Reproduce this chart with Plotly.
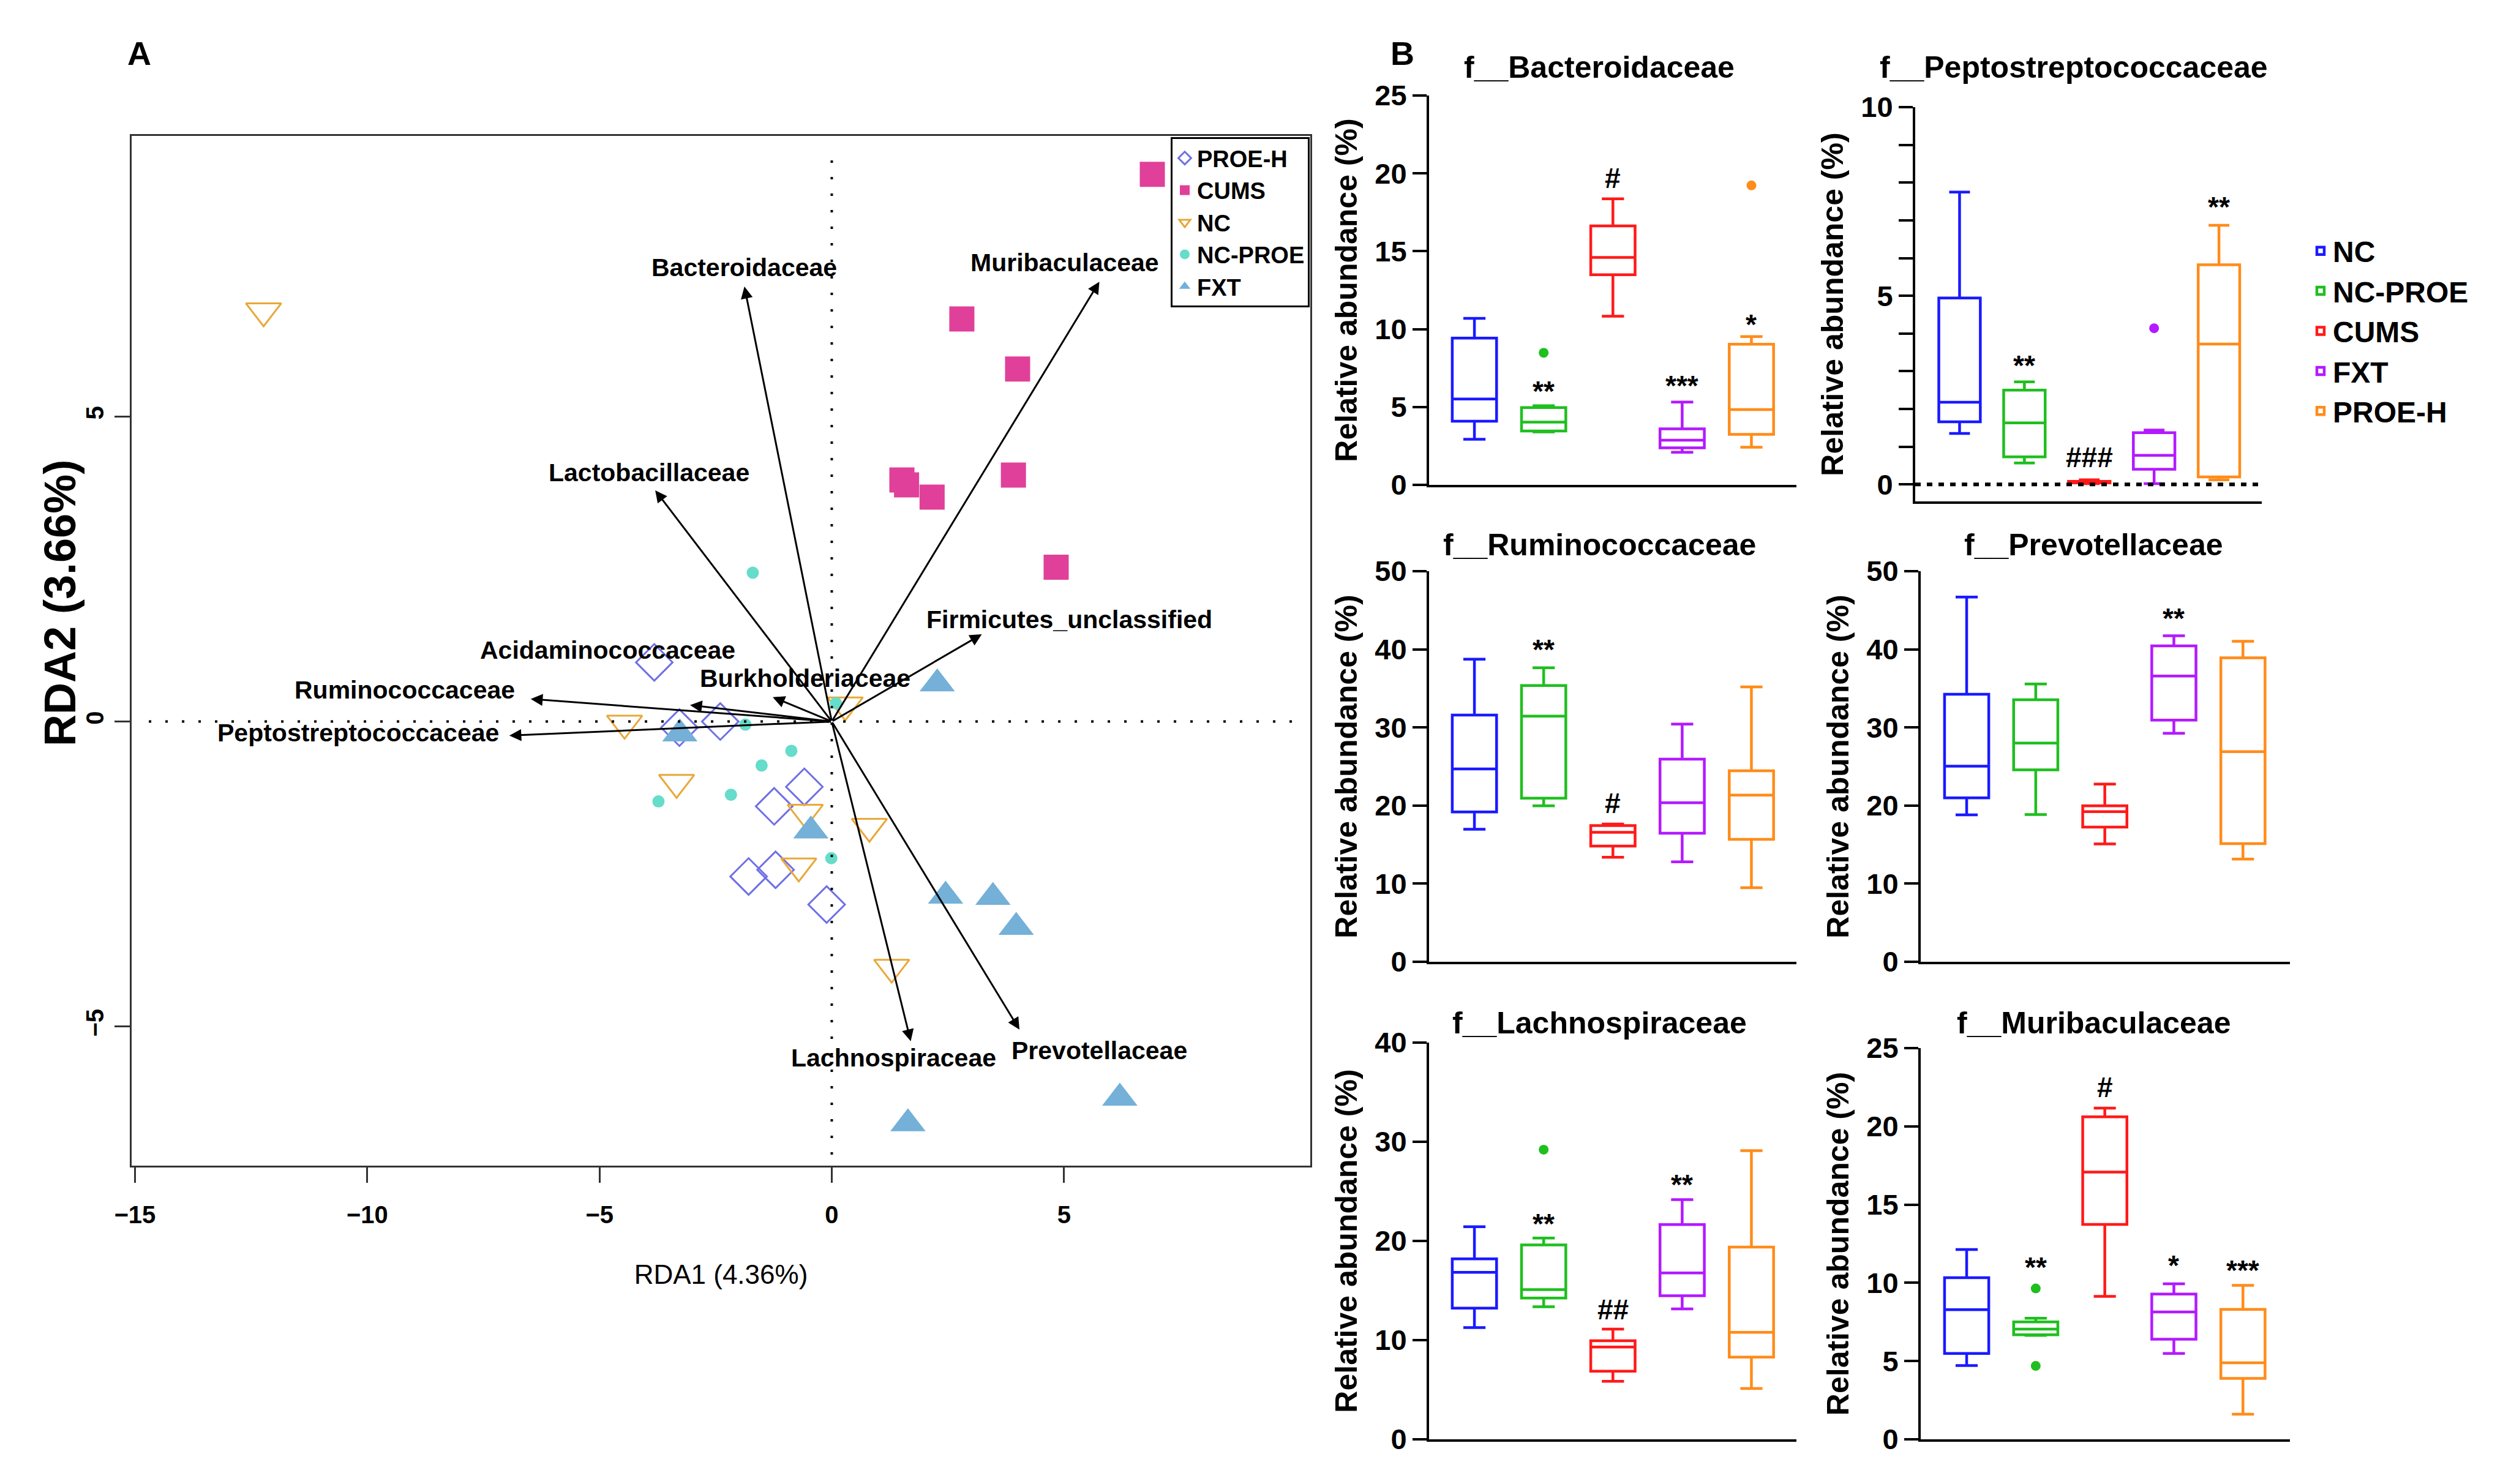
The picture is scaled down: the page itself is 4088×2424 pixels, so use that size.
import plotly.graph_objects as go

# ---------------- Panel A data (RDA biplot) ----------------
proeh_x = [-3.82, -3.28, -2.40, -0.59, -1.24, -1.79, -1.21, -0.11]
proeh_y = [0.97, -0.10, 0.00, -1.07, -1.39, -2.54, -2.43, -3.00]
cums_x = [6.90, 2.80, 4.00, 1.51, 1.61, 2.16, 3.91, 4.83]
cums_y = [8.97, 6.60, 5.78, 3.96, 3.88, 3.68, 4.04, 2.53]
nc_x = [-12.23, -4.46, -3.34, -0.57, 0.81, -0.71, 0.29, 1.29]
nc_y = [6.73, -0.03, -1.00, -1.49, -1.72, -2.37, 0.27, -4.03]
ncproe_x = [-1.70, -1.86, -0.87, -1.51, -2.17, -3.73, -0.01, 0.09]
ncproe_y = [2.44, -0.05, -0.48, -0.72, -1.20, -1.31, -2.24, 0.30]
fxt_x = [2.27, -3.27, -0.45, 2.45, 3.47, 3.97, 6.20, 1.64]
fxt_y = [0.62, -0.20, -1.79, -2.86, -2.88, -3.37, -6.17, -6.59]

arrow_names = ["Bacteroidaceae", "Muribaculaceae", "Lactobacillaceae", "Firmicutes_unclassified",
               "Acidaminococcaceae", "Burkholderiaceae", "Ruminococcaceae", "Peptostreptococcaceae",
               "Lachnospiraceae", "Prevotellaceae"]
arrow_x = [-1.88, 5.76, -3.80, 3.23, -3.05, -1.27, -6.48, -6.94, 1.70, 4.04]
arrow_y = [7.13, 7.21, 3.79, 1.43, 0.27, 0.40, 0.37, -0.23, -5.24, -5.05]
label_x = [-1.88, 5.02, -3.93, 5.11, -4.82, -0.57, -9.19, -10.2, 1.33, 5.76]
label_y = [7.44, 7.52, 4.08, 1.67, 1.17, 0.71, 0.52, -0.18, -5.51, -5.39]

# ---------------- Panel B data (box plots) ----------------
groups = ["NC", "NC-PROE", "CUMS", "FXT", "PROE-H"]
box_colors = ["#1a1aff", "#1fbf1f", "#ff1a1a", "#b31aff", "#ff8c1a"]

bact_min = [2.93, 3.40, 10.83, 2.09, 2.42]
bact_q1 = [4.09, 3.46, 13.49, 2.38, 3.24]
bact_med = [5.51, 4.03, 14.60, 2.87, 4.83]
bact_q3 = [9.42, 4.96, 16.63, 3.60, 9.03]
bact_max = [10.69, 5.08, 18.37, 5.32, 9.52]
bact_out_g = [1, 4]
bact_out_v = [8.48, 19.23]
bact_sig = ["", "**", "#", "***", "*"]
bact_sig_y = [0, 6.0, 19.7, 6.35, 10.3]

pept_min = [1.35, 0.57, 0.02, 0.02, 0.12]
pept_q1 = [1.66, 0.73, 0.04, 0.40, 0.20]
pept_med = [2.18, 1.63, 0.06, 0.77, 3.72]
pept_q3 = [4.94, 2.50, 0.08, 1.37, 5.82]
pept_max = [7.75, 2.72, 0.12, 1.44, 6.87]
pept_out_g = [3]
pept_out_v = [4.14]
pept_sig = ["", "**", "###", "", "**"]
pept_sig_y = [0, 3.15, 0.72, 0, 7.35]

rumi_min = [16.97, 19.97, 13.38, 12.79, 9.48]
rumi_q1 = [19.19, 20.94, 14.82, 16.46, 15.68]
rumi_med = [24.69, 31.44, 16.58, 20.36, 21.33]
rumi_q3 = [31.59, 35.37, 17.43, 25.94, 24.45]
rumi_max = [38.73, 37.64, 17.63, 30.42, 35.18]
rumi_out_g = []
rumi_out_v = []
rumi_sig = ["", "**", "#", "", ""]
rumi_sig_y = [0, 40.0, 20.3, 0, 0]

prev_min = [18.80, 18.84, 15.09, 29.25, 13.14]
prev_q1 = [20.98, 24.57, 17.24, 30.93, 15.13]
prev_med = [25.04, 28.00, 19.23, 36.58, 26.91]
prev_q3 = [34.24, 33.54, 19.97, 40.44, 38.92]
prev_max = [46.68, 35.57, 22.74, 41.73, 41.03]
prev_out_g = []
prev_out_v = []
prev_sig = ["", "", "", "**", ""]
prev_sig_y = [0, 0, 0, 44.0, 0]

lach_min = [11.26, 13.37, 5.85, 13.15, 5.13]
lach_q1 = [13.22, 14.25, 6.86, 14.47, 8.28]
lach_med = [16.83, 15.10, 9.31, 16.77, 10.79]
lach_q3 = [18.19, 19.60, 9.94, 21.65, 19.38]
lach_max = [21.43, 20.30, 11.11, 24.17, 29.11]
lach_out_g = [1]
lach_out_v = [29.20]
lach_sig = ["", "**", "##", "**", ""]
lach_sig_y = [0, 21.7, 13.1, 25.7, 0]

muri_min = [4.71, 6.64, 9.14, 5.49, 1.60]
muri_q1 = [5.49, 6.68, 13.73, 6.40, 3.89]
muri_med = [8.28, 7.04, 17.08, 8.14, 4.89]
muri_q3 = [10.33, 7.50, 20.61, 9.28, 8.30]
muri_max = [12.13, 7.74, 21.17, 9.94, 9.84]
muri_out_g = [1, 1]
muri_out_v = [9.64, 4.69]
muri_sig = ["", "**", "#", "*", "***"]
muri_sig_y = [0, 11.0, 22.5, 11.1, 10.8]

# ---------------- layout helpers ----------------
W, H = 4088, 2424


def px(x):
    return x / W


def py(y):
    return 1 - y / H


SANS = "Liberation Sans, Arial, Helvetica, sans-serif"

fig = go.Figure()

# ---------------- Panel A traces ----------------
rda_series = [
    ("PROE-H", proeh_x, proeh_y, dict(symbol="diamond-open", size=46, color="#6f6fe6", line=dict(width=3, color="#6f6fe6"))),
    ("CUMS", cums_x, cums_y, dict(symbol="square", size=41, color="#e0409a")),
    ("NC", nc_x, nc_y, dict(symbol="triangle-down-open", size=50, color="#e8a838", line=dict(width=3, color="#e8a838"))),
    ("NC-PROE", ncproe_x, ncproe_y, dict(symbol="circle", size=20, color="#66dccb")),
    ("FXT", fxt_x, fxt_y, dict(symbol="triangle-up", size=50, color="#74b0d8")),
]
for name, xs, ys, mk in rda_series:
    fig.add_trace(go.Scatter(x=xs, y=ys, mode="markers", name=name, marker=mk,
                             xaxis="x", yaxis="y", legend="legend", showlegend=True))

shapes = []
shapes.append(dict(type="line", xref="x", yref="y", x0=-14.7, x1=9.95, y0=0, y1=0,
                   line=dict(color="black", width=4, dash="4px,23px")))
shapes.append(dict(type="line", xref="x", yref="y", x0=0, x1=0, y0=-7.1, y1=9.4,
                   line=dict(color="black", width=4, dash="4px,23px")))

annotations = []
for n, ax_, ay_, lx, ly in zip(arrow_names, arrow_x, arrow_y, label_x, label_y):
    annotations.append(dict(x=ax_, y=ay_, ax=0, ay=0, xref="x", yref="y", axref="x", ayref="y",
                            text="", showarrow=True, arrowhead=2, arrowsize=1.3, arrowwidth=3,
                            arrowcolor="black"))
    annotations.append(dict(x=lx, y=ly, xref="x", yref="y", text="<b>%s</b>" % n, showarrow=False,
                            font=dict(family=SANS, size=41, color="black"),
                            xanchor="center", yanchor="middle"))

# ---------------- Panel B traces ----------------
panels = [
    ("Bacteroidaceae", bact_min, bact_q1, bact_med, bact_q3, bact_max, bact_out_g, bact_out_v, bact_sig, bact_sig_y),
    ("Peptostreptococcaceae", pept_min, pept_q1, pept_med, pept_q3, pept_max, pept_out_g, pept_out_v, pept_sig, pept_sig_y),
    ("Ruminococcaceae", rumi_min, rumi_q1, rumi_med, rumi_q3, rumi_max, rumi_out_g, rumi_out_v, rumi_sig, rumi_sig_y),
    ("Prevotellaceae", prev_min, prev_q1, prev_med, prev_q3, prev_max, prev_out_g, prev_out_v, prev_sig, prev_sig_y),
    ("Lachnospiraceae", lach_min, lach_q1, lach_med, lach_q3, lach_max, lach_out_g, lach_out_v, lach_sig, lach_sig_y),
    ("Muribaculaceae", muri_min, muri_q1, muri_med, muri_q3, muri_max, muri_out_g, muri_out_v, muri_sig, muri_sig_y),
]

# panel boxes in reference pixels: (left, right, top, bottom)
panel_px = [
    (2334, 2934, 156, 792),
    (3128, 3694, 175, 819),
    (2334, 2934, 933, 1571),
    (3137, 3740, 933, 1571),
    (2334, 2934, 1703, 2351),
    (3137, 3740, 1712, 2351),
]
title_px = [(2612, 110), (3387, 110), (2612, 890), (3419, 890), (2612, 1671), (3419, 1671)]
y_ranges = [[0, 25], [-0.45, 10], [0, 50], [0, 50], [0, 40], [0, 25]]
y_dticks = [5, 5, 10, 10, 10, 5]
x_ranges = [[-0.655, 4.65], [-0.684, 4.66], [-0.655, 4.65], [-0.665, 4.68], [-0.655, 4.65], [-0.665, 4.68]]

layout_axes = {}
for i, (title, mn, q1, md, q3, mx, og, ov, sig, sigy) in enumerate(panels):
    k = i + 2
    xa, ya = "x%d" % k, "y%d" % k
    for g in range(5):
        fig.add_trace(go.Box(
            x=[g], lowerfence=[mn[g]], q1=[q1[g]], median=[md[g]], q3=[q3[g]], upperfence=[mx[g]],
            name=groups[g], width=0.64, whiskerwidth=0.5, boxpoints=False,
            line=dict(color=box_colors[g], width=4.5), fillcolor="rgba(255,255,255,0)",
            xaxis=xa, yaxis=ya, legend="legend2", showlegend=(i == 1)))
    if og:
        fig.add_trace(go.Scatter(x=og, y=ov, mode="markers", showlegend=False,
                                 marker=dict(size=16, color=[box_colors[g] for g in og]),
                                 xaxis=xa, yaxis=ya))
    for g in range(5):
        if sig[g]:
            annotations.append(dict(x=g, y=sigy[g], xref=xa, yref=ya, text="<b>%s</b>" % sig[g],
                                    showarrow=False, font=dict(family=SANS, size=46, color="black"),
                                    xanchor="center", yanchor="middle"))
    l, r, t, b = panel_px[i]
    layout_axes["xaxis%d" % k] = dict(domain=[px(l), px(r)], range=x_ranges[i], anchor=ya,
                                      showticklabels=False, ticks="", showgrid=False, zeroline=False,
                                      showline=True, linecolor="black", linewidth=4)
    yax = dict(domain=[py(b), py(t)], range=y_ranges[i], anchor=xa, dtick=y_dticks[i],
               showgrid=False, zeroline=False, showline=True, linecolor="black", linewidth=4,
               ticks="outside", ticklen=23, tickwidth=4, tickcolor="black",
               tickfont=dict(family=SANS, size=47, color="black", weight="bold"),
               title=dict(text="Relative abundance (%)", standoff=14,
                          font=dict(family=SANS, size=50, color="black", weight="bold")))
    if i == 1:
        yax["tickvals"] = [0, 5, 10]
        yax["minor"] = dict(dtick=1, ticks="outside", ticklen=23, tickwidth=4, tickcolor="black")
        shapes.append(dict(type="line", xref=xa, yref=ya, x0=x_ranges[i][0], x1=x_ranges[i][1],
                           y0=0, y1=0, line=dict(color="black", width=6, dash="9px,10px")))
    layout_axes["yaxis%d" % k] = yax
    tx, ty = title_px[i]
    annotations.append(dict(x=px(tx), y=py(ty), xref="paper", yref="paper", text="<b>f__%s</b>" % title,
                            showarrow=False, font=dict(family=SANS, size=50, color="black"),
                            xanchor="center", yanchor="middle"))

# panel letters and panel A y-title
annotations.append(dict(x=px(227), y=py(87), xref="paper", yref="paper", text="<b>A</b>", showarrow=False,
                        font=dict(family=SANS, size=54, color="black"), xanchor="center", yanchor="middle"))
annotations.append(dict(x=px(2290), y=py(87), xref="paper", yref="paper", text="<b>B</b>", showarrow=False,
                        font=dict(family=SANS, size=54, color="black"), xanchor="center", yanchor="middle"))
annotations.append(dict(x=px(98), y=py(985), xref="paper", yref="paper", text="<b>RDA2 (3.66%)</b>",
                        showarrow=False, textangle=-90, xanchor="center", yanchor="middle",
                        font=dict(family=SANS, size=72, color="black")))

fig.update_layout(
    width=W, height=H, margin=dict(l=0, r=0, t=0, b=0, pad=0, autoexpand=False),
    paper_bgcolor="white", plot_bgcolor="white",
    xaxis=dict(domain=[px(215), px(2140)], range=[-15.07, 10.30], anchor="y",
               tickvals=[-15, -10, -5, 0, 5], showgrid=False, zeroline=False,
               showline=True, mirror=True, linecolor="#333333", linewidth=3,
               ticks="outside", ticklen=25, tickwidth=3, tickcolor="#333333", ticklabelstandoff=18,
               tickfont=dict(family=SANS, size=40, color="black", weight="bold"),
               title=dict(text="RDA1 (4.36%)", standoff=62, font=dict(family=SANS, size=44, color="black"))),
    yaxis=dict(domain=[py(1904), py(222)], range=[-7.28, 9.60], anchor="x",
               tickvals=[-5, 0, 5], showgrid=False, zeroline=False, tickangle=-90,
               showline=True, mirror=True, linecolor="#333333", linewidth=3,
               ticks="outside", ticklen=25, tickwidth=3, tickcolor="#333333", ticklabelstandoff=2,
               tickfont=dict(family=SANS, size=40, color="black", weight="bold")),
    legend=dict(x=px(1912), y=py(224), xanchor="left", yanchor="top",
                bordercolor="black", borderwidth=3, bgcolor="white",
                font=dict(family=SANS, size=38, color="black", weight="bold"),
                itemsizing="trace", traceorder="normal"),
    legend2=dict(x=px(3770), y=py(372), xanchor="left", yanchor="top",
                 bgcolor="rgba(0,0,0,0)", borderwidth=0,
                 font=dict(family=SANS, size=48, color="black", weight="bold"),
                 traceorder="normal"),
    shapes=shapes, annotations=annotations, showlegend=True,
    **layout_axes,
)

fig.write_html("out.html", config={"displayModeBar": False},
               post_script="document.body.style.margin='0px';")
